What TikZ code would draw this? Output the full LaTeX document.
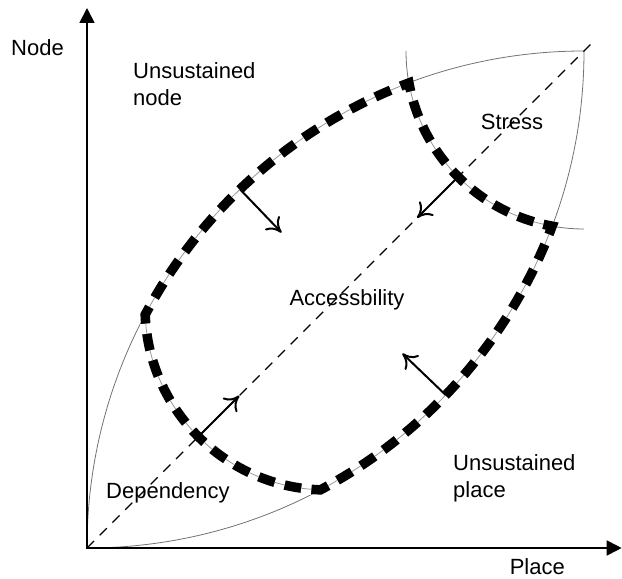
\documentclass[tikz,border=0pt]{standalone}
\usepackage{fontspec}
\setmainfont{Liberation Sans}
\usetikzlibrary{arrows.meta,calc}

% the four arcs bounding the accessibility region
\newcommand\segupper{(Q) arc[start angle=110.63,end angle=152,radius=497]}
\newcommand\segdep{(P) arc[start angle=182.1,end angle=267.9,radius=182]}
\newcommand\seglower{(R) arc[start angle=298,end angle=339.37,radius=497]}
\newcommand\segstress{(S) arc[start angle=259.68,end angle=190.32,radius=178]}

\begin{document}
\begin{tikzpicture}[x=1pt,y=1pt,
  lens/.style={draw=black!55, line width=0.8pt},
  solidrim/.style={draw=black, line width=9.5pt, line join=miter},
  gapwhite/.style 2 args={draw=white, line width=11pt, dash pattern=on #1 off 17pt, dash phase=#2},
  gapgray/.style 2 args={draw=black!40, line width=0.8pt, dash pattern=on #1 off 17pt, dash phase=#2},
  diag/.style={draw=black, line width=1.2pt, dash pattern=on 10pt off 8pt},
  push/.style={draw=black, line width=2pt, -{To[length=14pt,width=20pt]}},
  axis/.style={draw=black, line width=1.8pt, {Triangle[length=15pt,width=15pt]}-{Triangle[length=15pt,width=15pt]}},
  lbl/.style={font=\fontsize{22}{27}\selectfont, inner sep=0pt, align=left}]

\useasboundingbox (-87,-31) rectangle (535,548);

\coordinate (O) at (0,0);
\coordinate (T) at (497,497);
\coordinate (U) at (497,0);   % centre of the upper lens arc
\coordinate (L) at (0,497);   % centre of the lower lens arc
\coordinate (D) at (240,240); % centre of the dependency arc
\coordinate (Q) at ($(U)+(110.63:497)$);
\coordinate (P) at ($(U)+(152:497)$);
\coordinate (R) at ($(D)+(267.9:182)$);
\coordinate (S) at ($(L)+(339.37:497)$);
\coordinate (M) at ($(U)+(131:497)$);

% thin lens and stress boundaries
\draw[lens] (O) arc[start angle=180,end angle=90,radius=497];
\draw[lens] (O) arc[start angle=270,end angle=360,radius=497];
\draw[lens] ($(T)+(180:178)$) arc[start angle=180,end angle=270,radius=178];

% accessibility region: one solid rim (started mid-arc so every corner
% is a true join), then the gaps cut out of it
\draw[solidrim] (M) arc[start angle=131,end angle=152,radius=497]
  arc[start angle=182.1,end angle=267.9,radius=182]
  arc[start angle=298,end angle=339.37,radius=497]
  arc[start angle=259.68,end angle=190.32,radius=178]
  arc[start angle=110.63,end angle=133,radius=497];
\draw[gapwhite={10.53pt}{18.53pt}] \segupper;
\draw[gapwhite={10.15pt}{18.15pt}] \segdep;
\draw[gapwhite={10.53pt}{18.53pt}] \seglower;
\draw[gapwhite={9.83pt}{17.83pt}] \segstress;
\draw[gapgray={10.53pt}{18.53pt}] \segupper;
\draw[gapgray={10.15pt}{18.15pt}] \segdep;
\draw[gapgray={10.53pt}{18.53pt}] \seglower;
\draw[gapgray={9.83pt}{17.83pt}] \segstress;

% diagonal
\coordinate (diagend) at (505,505);
\draw[diag] (O) -- (diagend);

% pressure arrows
\coordinate (a1) at ($(U)+(133.8:497)$);
\coordinate (b1) at ($(U)+(133.8:437)$);
\coordinate (a2) at ($(T)+(225:178)$);
\coordinate (b2) at ($(T)+(225:236)$);
\coordinate (a3) at ($(D)+(225:182)$);
\coordinate (b3) at ($(D)+(225:124)$);
\coordinate (a4) at ($(L)+(316.2:497)$);
\coordinate (b4) at ($(L)+(316.2:437)$);
\draw[push] (a1) -- (b1);
\draw[push] (a2) -- (b2);
\draw[push] (a3) -- (b3);
\draw[push] (a4) -- (b4);

% axes
\coordinate (yend) at (0,540);
\coordinate (xend) at (534.7,0);
\draw[axis] (yend) -- (O) -- (xend);

% labels
\node[lbl, anchor=base west] (nodeaxis) at (-76,492) {Node};
\node[lbl, anchor=base east] (placeaxis) at (478,-27) {Place};
\node[lbl, anchor=base west] (unode) at (46,442) {Unsustained\\node};
\node[lbl, anchor=base] (stress) at (425,418.7) {Stress};
\node[lbl, anchor=base] (acc) at (260,242) {Accessbility};
\node[lbl, anchor=base west] (uplace) at (366,50.4) {Unsustained\\place};
\node[lbl, anchor=base west] (dep) at (19,49) {Dependency};
\end{tikzpicture}
\end{document}
